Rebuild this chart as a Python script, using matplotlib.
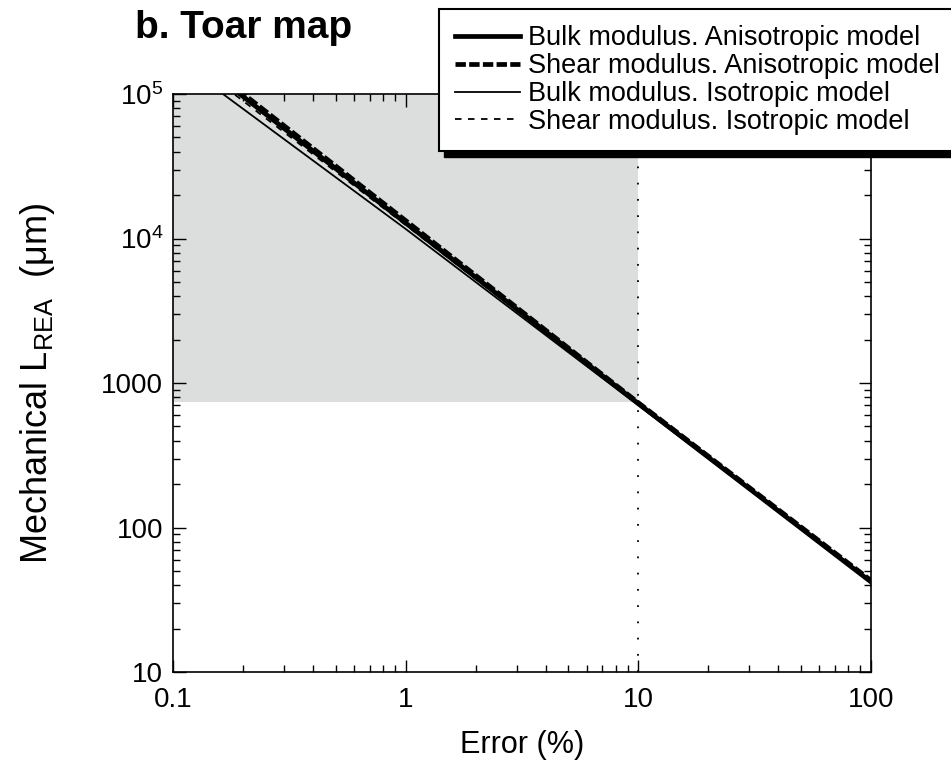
import matplotlib
matplotlib.use("Agg")
import matplotlib.pyplot as plt
from matplotlib.patches import Rectangle
from matplotlib.transforms import IdentityTransform
from matplotlib.ticker import FixedLocator, FixedFormatter, LogLocator, NullFormatter

plt.rcParams["font.family"] = ["Liberation Sans", "DejaVu Sans"]
plt.rcParams["mathtext.fontset"] = "custom"
plt.rcParams["mathtext.rm"] = "Liberation Sans"
plt.rcParams["mathtext.it"] = "Liberation Sans:italic"

# Error (%) values where the curves were read
error = [0.1, 1, 10, 100]
# Mechanical L_REA (um) for each model
bulk_aniso = [229000, 12800, 720, 42]
shear_aniso = [240000, 13300, 730, 43]
bulk_iso = [180000, 11640, 700, 42]
shear_iso = [210000, 12400, 710, 42.5]

# shaded admissible region and error threshold
shade_x = [0.1, 10]
shade_y = [738, 1e5]
threshold = 10

xticks = [0.1, 1, 10, 100]
xlabels = ["0.1", "1", "10", "100"]
yticks = [10, 100, 1000, 1e4, 1e5]
ylabels = ["10", "100", "1000", "10$^4$", "10$^5$"]

fig = plt.figure(figsize=(9.51, 7.75), dpi=100)
ax = fig.add_axes([173 / 951, 103 / 775, 698 / 951, 578 / 775])

ax.fill_between(shade_x, shade_y[0], shade_y[1], color="#dcdddd", lw=0, zorder=0)
ax.axvline(threshold, color="black", ls=(0, (1, 8)), lw=1.3, zorder=1)

h1, = ax.plot(error, bulk_aniso, color="black", lw=3.4)
h2, = ax.plot(error, shear_aniso, color="black", lw=3.4, ls=(0, (2.2, 0.7)))
h3, = ax.plot(error, bulk_iso, color="black", lw=1.3)
h4, = ax.plot(error, shear_iso, color="black", lw=1.3, ls=(0, (3.6, 3.6)))

ax.set_xscale("log")
ax.set_yscale("log")
ax.set_xlim(0.1, 100)
ax.set_ylim(10, 1e5)

ax.xaxis.set_major_locator(FixedLocator(xticks))
ax.xaxis.set_major_formatter(FixedFormatter(xlabels))
ax.yaxis.set_major_locator(FixedLocator(yticks))
ax.yaxis.set_major_formatter(FixedFormatter(ylabels))
for a in (ax.xaxis, ax.yaxis):
    a.set_minor_locator(LogLocator(base=10, subs=range(2, 10), numticks=20))
    a.set_minor_formatter(NullFormatter())

ax.tick_params(which="both", direction="in", top=True, right=True, labelsize=20, width=1)
ax.tick_params(which="major", length=9)
ax.tick_params(which="minor", length=5)
ax.tick_params(axis="x", pad=11)
ax.tick_params(axis="y", pad=7)
for s in ax.spines.values():
    s.set_linewidth(1.2)

ax.set_xlabel("Error (%)", fontsize=22, labelpad=12)
ax.set_ylabel(r"Mechanical L$_\mathregular{REA}$  ($\mathregular{\mu}$m)", fontsize=26, labelpad=32)

fig.text(244 / 951, 1 - 28 / 775, "b. Toar map", fontsize=28, fontweight="bold",
         ha="center", va="center")

labels = ["Bulk modulus. Anisotropic model", "Shear modulus. Anisotropic model",
          "Bulk modulus. Isotropic model", "Shear modulus. Isotropic model"]
leg = fig.legend([h1, h2, h3, h4], labels, loc="upper left",
                 bbox_to_anchor=(439 / 951, 1 - 9 / 775), fontsize=19.5,
                 frameon=True, fancybox=False, edgecolor="black", framealpha=1,
                 handlelength=2.4, handletextpad=0.3, labelspacing=0.07,
                 borderpad=0.6, borderaxespad=0)
leg.get_frame().set_linewidth(1.5)
leg.set_zorder(5)

# black drop shadow offset down-right of the legend box
fig.canvas.draw()
bb = leg.get_window_extent()
fig.add_artist(Rectangle((bb.x0 + 5, bb.y0 - 6), bb.width, bb.height, color="black",
                         transform=IdentityTransform(), zorder=4.9))

fig.savefig("out.png", dpi=100)
